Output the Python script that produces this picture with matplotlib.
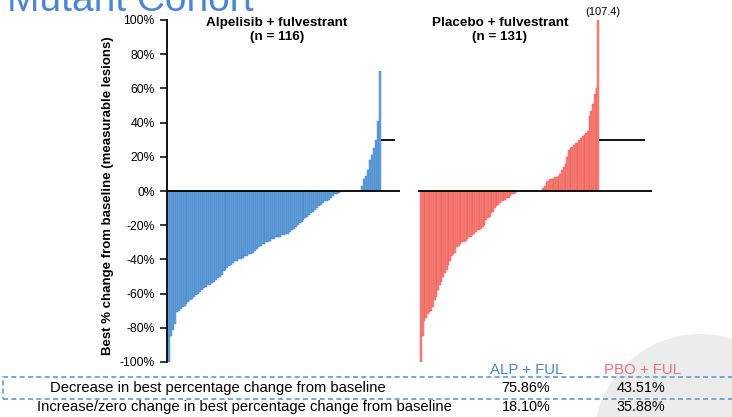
import numpy as np
from matplotlib import pyplot as plt
import matplotlib.patches as patches

plt.rcParams['font.family'] = ['Liberation Sans', 'DejaVu Sans']

# best % change per patient, sorted (negative, zero, positive)
alp_decrease = [-100, -85, -81, -78, -71, -70, -69, -68, -67, -66,
                -65, -64, -63, -62, -61, -60, -59, -58, -57, -56,
                -55, -55, -54, -53, -52, -51, -50, -49, -47, -46,
                -45, -44, -43, -42, -41, -41, -40, -40, -39, -38,
                -38, -37, -37, -36, -35, -34, -33, -32, -31, -31,
                -30, -30, -29, -28, -28, -27, -27, -27, -26, -26,
                -25, -25, -24, -23, -22, -21, -20, -19, -18, -17,
                -16, -15, -14, -13, -12, -11, -10, -9, -8, -7,
                -6, -6, -5, -4, -3, -2, -2, -1]
alp_zero = [0] * 11
alp_increase = [3, 7, 9, 12, 18, 21, 25, 30, 41, 70]

pbo_decrease = [-100, -85, -76, -74, -72, -71, -70, -68, -64, -62,
                -58, -55, -53, -50, -48, -46, -43, -41, -38, -37,
                -36, -33, -32, -31, -30, -30, -29, -28, -27, -27,
                -26, -25, -24, -23, -23, -22, -21, -20, -17, -16,
                -15, -13, -12, -10, -9, -8, -7, -6, -6, -5,
                -4, -4, -3, -2, -2, -1, -0.5]
pbo_zero = [0] * 14
pbo_increase = [2, 3, 5, 6, 7, 7, 7, 8, 8, 9,
                10, 12, 14, 16, 20, 24, 25, 26, 27, 28,
                28, 30, 31, 32, 33, 34, 35, 44, 47, 51,
                57, 60, 107.4]

alp_values = alp_decrease + alp_zero + alp_increase
pbo_values = pbo_decrease + pbo_zero + pbo_increase

pd_cut = 30
yticks = [100, 80, 60, 40, 20, 0, -20, -40, -60, -80, -100]
ytick_labels = [f'{t}%' for t in yticks]

rows = ['Decrease in best percentage change from baseline',
        'Increase/zero change in best percentage change from baseline']
alp_pct = ['75.86%', '18.10%']
pbo_pct = ['43.51%', '35.88%']

W, H = 732, 417
fig = plt.figure(figsize=(W / 100, H / 100), dpi=100)


def fx(px):
    return px / W


def fy(py):
    return 1 - py / H


# faint watermark disc, bottom right
fig.add_artist(patches.Ellipse((fx(700), fy(440)), 2 * 106 / W, 2 * 106 / H,
                               transform=fig.transFigure, facecolor='#ececec',
                               edgecolor='none', zorder=0))

fig.text(fx(254), fy(11), 'Mutant Cohort', color='#4a86d4', fontsize=28,
         ha='right', va='baseline')

ax1 = fig.add_axes([fx(167), fy(362), fx(400 - 167), (362 - 20) / H])
ax2 = fig.add_axes([fx(418), fy(362), fx(652 - 418), (362 - 20) / H])

ax1.bar(np.arange(len(alp_values)), alp_values, width=1.0,
        color='#66a3dc', edgecolor='#3b7cc0', linewidth=0.3)
ax2.bar(np.arange(len(pbo_values)), pbo_values, width=1.0,
        color='#f8877f', edgecolor='#e85149', linewidth=0.3)

ax1.set_xlim(-1.0, 118.5)
ax2.set_xlim(-1.7, 134.3)

for ax in (ax1, ax2):
    ax.set_ylim(-100, 100)
    ax.axhline(0, color='black', lw=1.3, zorder=3)
    ax.set_xticks([])
    ax.patch.set_alpha(0)
    for s in ('top', 'right', 'bottom'):
        ax.spines[s].set_visible(False)

ax1.hlines(pd_cut, 108.7, 115.9, color='black', lw=1.3)
ax2.hlines(pd_cut, 103.5, 130.2, color='black', lw=1.3)

ax1.spines['left'].set_linewidth(1.3)
ax1.set_yticks(yticks)
ax1.set_yticklabels(ytick_labels, fontsize=8.7)
ax1.tick_params(axis='y', length=5, width=1.1, pad=4)
ax2.spines['left'].set_visible(False)
ax2.set_yticks([])

fig.text(fx(108), fy(196), 'Best % change from baseline (measurable lesions)',
         rotation=90, ha='center', va='center', fontsize=9.5, fontweight='bold')

fig.text(fx(277), fy(30), 'Alpelisib + fulvestrant\n(n = 116)', ha='center',
         va='center', fontsize=9.7, fontweight='bold', linespacing=1.15)
fig.text(fx(500), fy(30), 'Placebo + fulvestrant\n(n = 131)', ha='center',
         va='center', fontsize=9.7, fontweight='bold', linespacing=1.15)
ax2.text(len(pbo_values) - 1 + 2.5, 101.5, f'({pbo_increase[-1]})', ha='center',
         va='bottom', fontsize=8, clip_on=False)

# summary table underneath
fig.text(fx(527), fy(370), 'ALP + FUL', color='#4a86c8', fontsize=10.8,
         ha='center', va='center')
fig.text(fx(642), fy(370), 'PBO + FUL', color='#e8737a', fontsize=10.8,
         ha='center', va='center')
row_y = [388, 407]
row_x = [50, 37]
for label, a, p, y, x in zip(rows, alp_pct, pbo_pct, row_y, row_x):
    fig.text(fx(x), fy(y), label, fontsize=10.6, ha='left', va='center')
    fig.text(fx(526), fy(y), a, fontsize=10.4, ha='center', va='center')
    fig.text(fx(641), fy(y), p, fontsize=10.4, ha='center', va='center')

fig.add_artist(patches.Rectangle((fx(3), fy(399)), fx(740), (399 - 377) / H,
                                 transform=fig.transFigure, fill=False,
                                 edgecolor='#5b9bd5', lw=1.2, ls=(0, (3, 2))))

fig.savefig('out.png', dpi=100)
